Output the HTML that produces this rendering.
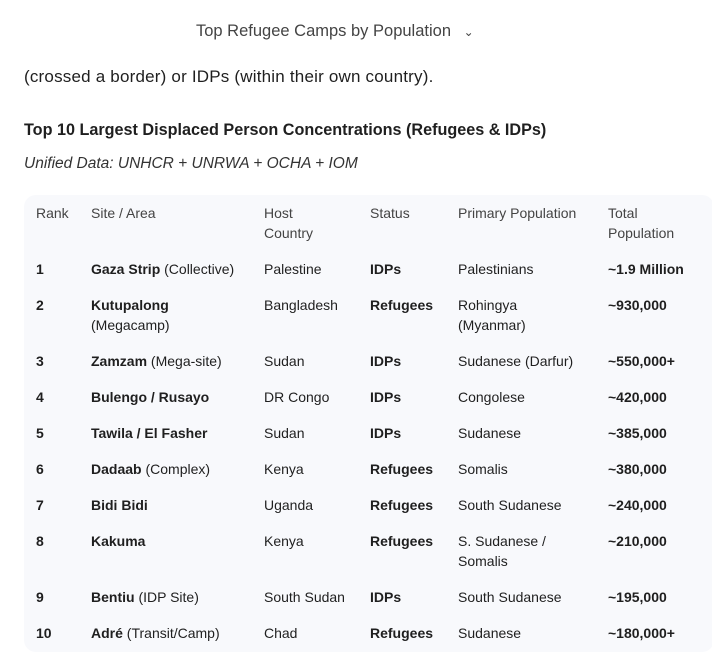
<!DOCTYPE html>
<html><head><meta charset="utf-8"><style>
body{margin:0;width:712px;height:656px;background:#fff;font-family:"Liberation Sans",sans-serif;color:#1f1f1f;position:relative;overflow:hidden}
.a{position:absolute;white-space:nowrap}
#tbl{position:absolute;left:24px;top:195px;width:690px;height:457px;background:#f8f9fc;border-radius:12px}
.c{position:absolute;font-size:14px;line-height:20px;white-space:nowrap}
.h{color:#444}
b{font-weight:bold}
</style></head><body>
<div class="a" style="left:196px;top:22px;font-size:16.5px;color:#444">Top Refugee Camps by Population <span style="display:inline-block;margin-left:8px;font-size:12px">&#8964;</span></div>
<div class="a" style="left:24px;top:67px;font-size:17px;letter-spacing:0.2px">(crossed a border) or IDPs (within their own country).</div>
<div class="a" style="left:24px;top:121px;font-size:16.2px;font-weight:bold">Top 10 Largest Displaced Person Concentrations (Refugees &amp; IDPs)</div>
<div class="a" style="left:24px;top:155px;font-size:15.5px;font-style:italic;color:#333">Unified Data: UNHCR + UNRWA + OCHA + IOM</div>
<div id="tbl"></div>
<script>
const ranks=["1","2","3","4","5","6","7","8","9","10"];
const sites=[["Gaza Strip"," (Collective)"],["Kutupalong","<br>(Megacamp)"],["Zamzam"," (Mega-site)"],["Bulengo / Rusayo",""],["Tawila / El Fasher",""],["Dadaab"," (Complex)"],["Bidi Bidi",""],["Kakuma",""],["Bentiu"," (IDP Site)"],["Adré"," (Transit/Camp)"]];
const hosts=["Palestine","Bangladesh","Sudan","DR Congo","Sudan","Kenya","Uganda","Kenya","South Sudan","Chad"];
const statuses=["IDPs","Refugees","IDPs","IDPs","IDPs","Refugees","Refugees","Refugees","IDPs","Refugees"];
const pops=["Palestinians","Rohingya<br>(Myanmar)","Sudanese (Darfur)","Congolese","Sudanese","Somalis","South Sudanese","S. Sudanese /<br>Somalis","South Sudanese","Sudanese"];
const totals=["~1.9 Million","~930,000","~550,000+","~420,000","~385,000","~380,000","~240,000","~210,000","~195,000","~180,000+"];
const rowTops=[259,295,351,387,423,459,495,531,587,623];
const cols=[36,91,264,370,458,608];
const headers=["Rank","Site / Area","Host<br>Country","Status","Primary Population","Total<br>Population"];
function cell(x,y,html,name,cls){const d=document.createElement('div');d.className='c '+(cls||'');d.style.left=x+'px';d.style.top=y+'px';d.innerHTML=html;


document.body.appendChild(d);}
headers.forEach((h,i)=>cell(cols[i],203,h,'header-cell','h'));
ranks.forEach((r,i)=>{const y=rowTops[i];
cell(cols[0],y,'<b>'+r+'</b>','rank-cell');
cell(cols[1],y,'<b>'+sites[i][0]+'</b>'+sites[i][1],'site-cell');
cell(cols[2],y,hosts[i],'host-cell');
cell(cols[3],y,'<b>'+statuses[i]+'</b>','status-cell');
cell(cols[4],y,pops[i],'population-cell');
cell(cols[5],y,'<b>'+totals[i]+'</b>','total-cell');});
</script>
</body></html>
